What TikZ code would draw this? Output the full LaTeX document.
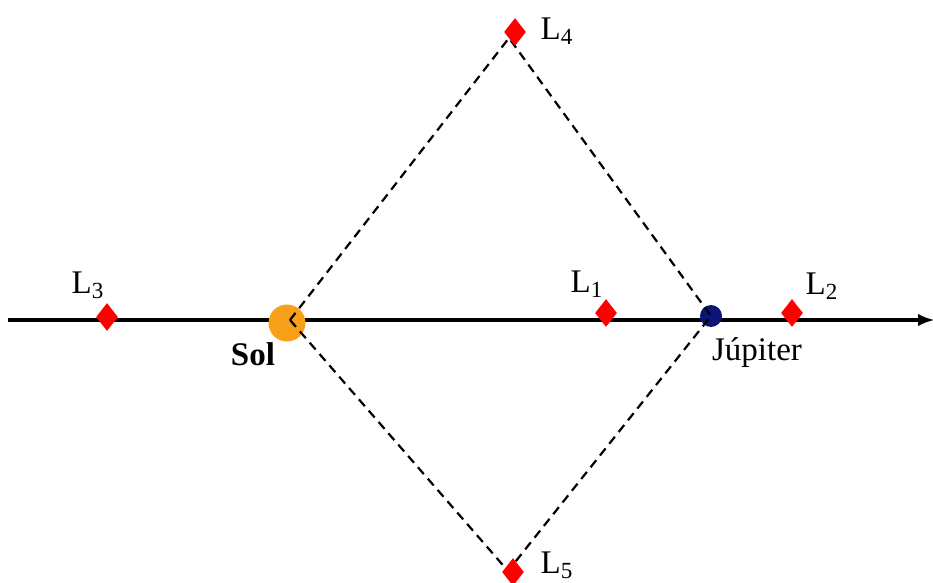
\documentclass[tikz,border=0pt]{standalone}
\usepackage{fontspec}
\setmainfont{Liberation Serif}
\usetikzlibrary{shapes.geometric,arrows,positioning}
\definecolor{sunorange}{RGB}{248,160,24}
\definecolor{jupnavy}{RGB}{12,20,120}

\begin{document}
\begin{tikzpicture}[
  x=0.5pt, y=-0.5pt,
  lpoint/.style={diamond, fill=red, minimum width=11pt, minimum height=14pt, inner sep=0pt},
  lbl/.style={font=\fontsize{16.5}{18}\selectfont, inner sep=0pt},
  axis/.style={-latex, line width=1.7pt},
  orbit/.style={line width=1.1pt, dash pattern=on 4.5pt off 3pt}
]
\useasboundingbox (0,0) rectangle (933,583);
\coordinate (axL) at (8,320);
\coordinate (axR) at (934,320);
\draw[axis] (axL) -- (axR);
\node[circle, fill=sunorange, minimum size=18.5pt, inner sep=0pt] (sun) at (287,323) {};
\node[circle, fill=jupnavy, minimum size=11pt, inner sep=0pt] (jup) at (711,316) {};
\coordinate (v4) at (509,38);
\coordinate (v5) at (508,571);
\draw[orbit] (290,320) -- (v4) -- (jup.center) -- (v5) -- (290,320);
\node[lpoint] (l1) at (606,313) {};
\node[lpoint] (l2) at (792,313) {};
\node[lpoint] (l3) at (107,317) {};
\node[lpoint] (l4) at (515,32) {};
\node[lpoint] (l5) at (513,572) {};
\node[lbl] (t1) at (587,284) {L\textsubscript{1}};
\node[lbl] (t2) at (822,286) {L\textsubscript{2}};
\node[lbl] (t3) at (88,285) {L\textsubscript{3}};
\node[lbl] (t4) at (557,31) {L\textsubscript{4}};
\node[lbl] (t5) at (557,565) {L\textsubscript{5}};
\node[lbl, font=\fontsize{16.5}{18}\selectfont\bfseries] (tsun) at (253,354) {Sol};
\node[lbl] (tjup) at (757,353) {Júpiter};
\end{tikzpicture}
\end{document}
